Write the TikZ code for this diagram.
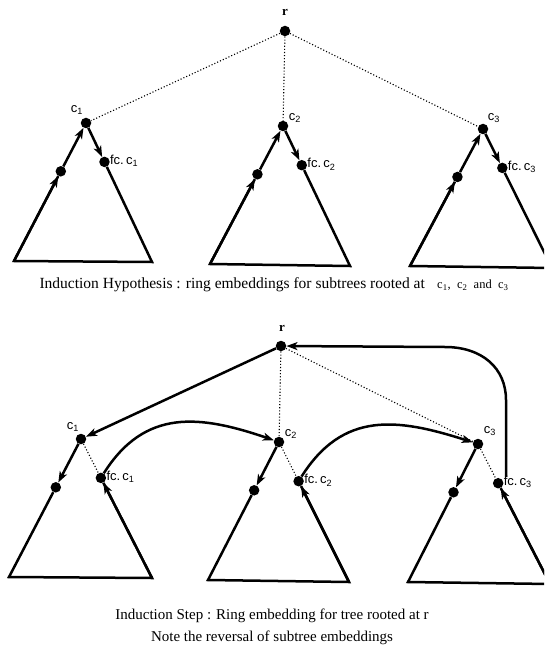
\documentclass[tikz,border=0pt]{standalone}
\usepackage{fontspec}
\setmainfont{Liberation Serif}
\newfontfamily\lblfont{Liberation Sans}
\usetikzlibrary{arrows.meta,calc}
\begin{document}
\begin{tikzpicture}[x=1pt,y=-1pt,
  dotnode/.style={circle,fill=black,inner sep=0pt,minimum size=10.5pt},
  solidline/.style={line width=2.5pt,line join=miter},
  arr/.style={solidline,-{Stealth[length=11pt,width=8pt,inset=3pt]}},
  dotline/.style={dotted,line width=1.1pt},
  lbl/.style={font=\lblfont\fontsize{13}{15}\selectfont,inner sep=0pt},
  rlbl/.style={font=\bfseries\fontsize{13}{15}\selectfont,inner sep=0pt},
  captext/.style={font=\fontsize{15}{18}\selectfont,inner sep=0pt}
]
\useasboundingbox (0,0) rectangle (544,652);
\clip (0,0) rectangle (544,652);

% ---------------- top picture ----------------
\coordinate (tb1l) at (14,261);  \coordinate (tb1r) at (152,262);
\coordinate (tb2l) at (210,264); \coordinate (tb2r) at (350,266);
\coordinate (tb3l) at (410,266); \coordinate (tb3r) at (552,268);

\node[dotnode] (tr)  at (285,31) {};
\node[dotnode] (tc1) at (86,123) {};
\node[dotnode] (tc2) at (283,126) {};
\node[dotnode] (tc3) at (483,129) {};
\node[dotnode] (tl1) at ($(tc1)!0.35!(tb1l)$) {};
\node[dotnode] (tf1) at ($(tc1)!0.28!(tb1r)$) {};
\node[dotnode] (tl2) at ($(tc2)!0.35!(tb2l)$) {};
\node[dotnode] (tf2) at ($(tc2)!0.28!(tb2r)$) {};
\node[dotnode] (tl3) at ($(tc3)!0.35!(tb3l)$) {};
\node[dotnode] (tf3) at ($(tc3)!0.28!(tb3r)$) {};

\draw[dotline] (tr) -- (tc1);
\draw[dotline] (tr) -- (tc2);
\draw[dotline] (tr) -- (tc3);

\foreach \i in {1,2,3}{
  \draw[solidline] (tf\i) -- (tb\i r) -- (tb\i l) -- (tl\i);
  \draw[arr] (tb\i l) -- (tl\i);
  \draw[arr] (tl\i) -- (tc\i);
  \draw[arr] (tc\i) -- (tf\i);
}

\node[rlbl] (trlbl) at (285,12) {r};
\node[lbl] (tc1lbl) at ($(tc1)+(-9,-13)$) {c\textsubscript{1}};
\node[lbl] (tc2lbl) at ($(tc2)+(12,-8)$) {c\textsubscript{2}};
\node[lbl] (tc3lbl) at ($(tc3)+(11,-11)$) {c\textsubscript{3}};
\node[lbl,anchor=west] (tf1lbl) at ($(tf1.east)+(0,-1)$) {fc.\,c\textsubscript{1}};
\node[lbl,anchor=west] (tf2lbl) at ($(tf2.east)+(0,-1)$) {fc.\,c\textsubscript{2}};
\node[lbl,anchor=west] (tf3lbl) at ($(tf3.east)+(0,-1)$) {fc.\,c\textsubscript{3}};

\node[captext,font=\fontsize{15.5}{18.5}\selectfont] (cap1) at (274,285) {Induction Hypothesis : ring embeddings for subtrees rooted at\hspace{0.8em}{\fontsize{12.5}{14}\selectfont c\textsubscript{1}, \ c\textsubscript{2} \ and \ c\textsubscript{3}}};

% ---------------- bottom picture ----------------
\coordinate (bb1l) at (9,577);   \coordinate (bb1r) at (152,578);
\coordinate (bb2l) at (208,580); \coordinate (bb2r) at (349,582);
\coordinate (bb3l) at (408,582); \coordinate (bb3r) at (550,584);

\node[dotnode] (br)  at (281,346) {};
\node[dotnode] (bc1) at (81,439) {};
\node[dotnode] (bc2) at (279,442) {};
\node[dotnode] (bc3) at (478,444) {};
\node[dotnode] (bl1) at ($(bc1)!0.35!(bb1l)$) {};
\node[dotnode] (bf1) at ($(bc1)!0.28!(bb1r)$) {};
\node[dotnode] (bl2) at ($(bc2)!0.35!(bb2l)$) {};
\node[dotnode] (bf2) at ($(bc2)!0.28!(bb2r)$) {};
\node[dotnode] (bl3) at ($(bc3)!0.35!(bb3l)$) {};
\node[dotnode] (bf3) at ($(bc3)!0.28!(bb3r)$) {};

\draw[dotline] (br) -- (bc2);
\draw[dotline] (br) -- (bc3);
\foreach \i in {1,2,3}{
  \draw[dotline] (bc\i) -- (bf\i);
  \draw[solidline] (bl\i) -- (bb\i l) -- (bb\i r) -- (bf\i);
  \draw[arr] (bb\i r) -- (bf\i);
  \draw[arr] (bc\i) -- (bl\i);
}
\draw[arr] (br) -- (bc1);
\draw[arr] (bf1) .. controls (145,408) and (200,415) .. (bc2);
\draw[arr] (bf2) .. controls (343,411) and (397,418) .. (bc3);
\coordinate (bv3) at (506,477);
\draw[arr] (bv3) -- (506,400) .. controls (506,368) and (482,347) .. (445,347) -- (br);

\node[rlbl] (brlbl) at (282,328) {r};
\node[lbl] (bc1lbl) at ($(bc1)+(-8,-12)$) {c\textsubscript{1}};
\node[lbl] (bc2lbl) at ($(bc2)+(12,-8)$) {c\textsubscript{2}};
\node[lbl] (bc3lbl) at ($(bc3)+(12,-13)$) {c\textsubscript{3}};
\node[lbl,anchor=west] (bf1lbl) at ($(bf1.east)+(0,-1)$) {fc.\,c\textsubscript{1}};
\node[lbl,anchor=west] (bf2lbl) at ($(bf2.east)+(0,-1)$) {fc.\,c\textsubscript{2}};
\node[lbl,anchor=west] (bf3lbl) at ($(bf3.east)+(0,-1)$) {fc.\,c\textsubscript{3}};

\node[captext] (cap2) at (272,616) {Induction Step : Ring embedding for tree rooted at r};
\node[captext] (cap3) at (272,638) {Note the reversal of subtree embeddings};
\end{tikzpicture}
\end{document}
